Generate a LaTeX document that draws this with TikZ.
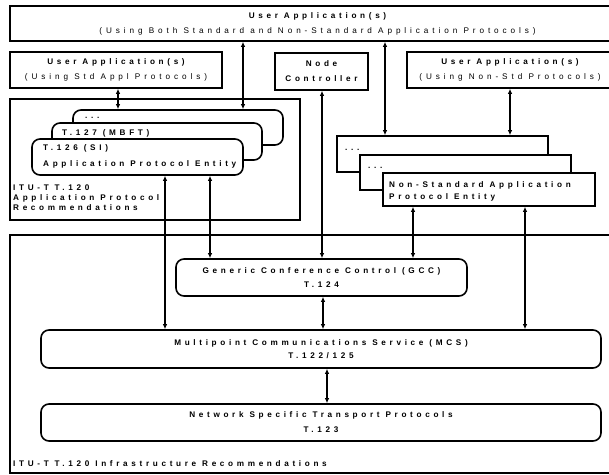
\documentclass[tikz,border=0pt]{standalone}
\usepackage{fontspec}
\setmainfont{Liberation Sans}[LetterSpace=45]
\newfontfamily\regfont{Liberation Sans}[LetterSpace=48]
\usetikzlibrary{arrows.meta}
\begin{document}
\begin{tikzpicture}[x=1bp,y=-1bp,
  box/.style={draw, line width=1.6bp, fill=white, inner sep=0pt},
  rbox/.style={box, rounded corners=8bp},
  txt/.style={font=\fontsize{8.2}{15}\selectfont\bfseries, align=center},
  lbl/.style={font=\fontsize{8.2}{10.5}\selectfont\bfseries, align=left, inner sep=0pt},
  arr/.style={line width=1.1bp, {Latex[length=5bp,width=4.5bp]}-{Latex[length=5bp,width=4.5bp]}},
]
\useasboundingbox (0,0) rectangle (609,475);

% top row
\node[box, txt, minimum width=615bp, minimum height=35bp] (top) at (317.5,23.5)
  {User Application(s)\\\regfont\mdseries(Using Both Standard and Non-Standard Application Protocols)};
\node[box, txt, minimum width=212bp, minimum height=36bp] (stdapp) at (116,70)
  {User Application(s)\\\regfont\mdseries(Using Std Appl Protocols)};
\node[box, txt, minimum width=93bp, minimum height=37bp] (nodectl) at (321.5,71.5)
  {Node\\Controller};
\node[box, txt, minimum width=206bp, minimum height=36bp] (nsapp) at (510,70)
  {User Application(s)\\\regfont\mdseries(Using Non-Std Protocols)};

% application protocol recommendations
\node[box, minimum width=290bp, minimum height=121bp] (apprec) at (155,159.5) {};
\node[lbl, anchor=base west] (apprecl) at (13,211) {ITU-T T.120\\Application Protocol\\Recommendations};

\node[rbox, minimum width=210bp, minimum height=35bp] (ldots) at (178,127.5) {};
\node[lbl, anchor=base west] (ldotst) at (85,119) {...};
\node[rbox, minimum width=210bp, minimum height=37bp] (t127) at (157,141.5) {};
\node[lbl, anchor=base west] (t127t) at (62,136) {T.127 (MBFT)};
\node[rbox, minimum width=211bp, minimum height=36bp] (t126) at (137.5,157) {};
\node[lbl, anchor=base west, font=\fontsize{8.2}{17}\selectfont\bfseries] (t126t) at (43,167)
  {T.126 (SI)\\Application Protocol Entity};

% non-standard stack
\node[box, minimum width=211bp, minimum height=36bp] (rd1) at (442.5,154) {};
\node[lbl, anchor=base west] (rd1t) at (345,151) {...};
\node[box, minimum width=211bp, minimum height=35bp] (rd2) at (465.5,172.5) {};
\node[lbl, anchor=base west] (rd2t) at (368,169) {...};
\node[box, minimum width=212bp, minimum height=33bp] (nsent) at (489,189.5) {};
\node[lbl, anchor=base west, font=\fontsize{8.2}{13}\selectfont\bfseries] (nsentt) at (389,200)
  {Non-Standard Application\\Protocol Entity};

% infrastructure
\node[box, fill=none, minimum width=612bp, minimum height=238bp] (infra) at (316,354) {};
\node[lbl, anchor=base west] (infral) at (13,466) {ITU-T T.120 Infrastructure Recommendations};

\node[rbox, txt, font=\fontsize{8.2}{14}\selectfont\bfseries, minimum width=291bp, minimum height=37bp] (gcc) at (321.5,277.5)
  {Generic Conference Control (GCC)\\T.124};
\node[rbox, txt, font=\fontsize{8.2}{13}\selectfont\bfseries, minimum width=560bp, minimum height=38bp] (mcs) at (321,349)
  {Multipoint Communications Service (MCS)\\T.122/125};
\node[rbox, txt, minimum width=560bp, minimum height=37bp] (net) at (321,422.5)
  {Network Specific Transport Protocols\\T.123};

% connectors
\draw[arr] (118,0 |- stdapp.south) -- (118,0 |- ldots.north);
\draw[arr] (243,0 |- top.south) -- (243,0 |- ldots.north);
\draw[arr] (385,0 |- top.south) -- (385,0 |- rd1.north);
\draw[arr] (510,0 |- nsapp.south) -- (510,0 |- rd1.north);
\draw[arr] (322,0 |- nodectl.south) -- (322,0 |- gcc.north);
\draw[arr] (165,0 |- t126.south) -- (165,0 |- mcs.north);
\draw[arr] (210,0 |- t126.south) -- (210,0 |- gcc.north);
\draw[arr] (413,0 |- nsent.south) -- (413,0 |- gcc.north);
\draw[arr] (525,0 |- nsent.south) -- (525,0 |- mcs.north);
\draw[arr] (323,0 |- gcc.south) -- (323,0 |- mcs.north);
\draw[arr] (327,0 |- mcs.south) -- (327,0 |- net.north);
\end{tikzpicture}
\end{document}
